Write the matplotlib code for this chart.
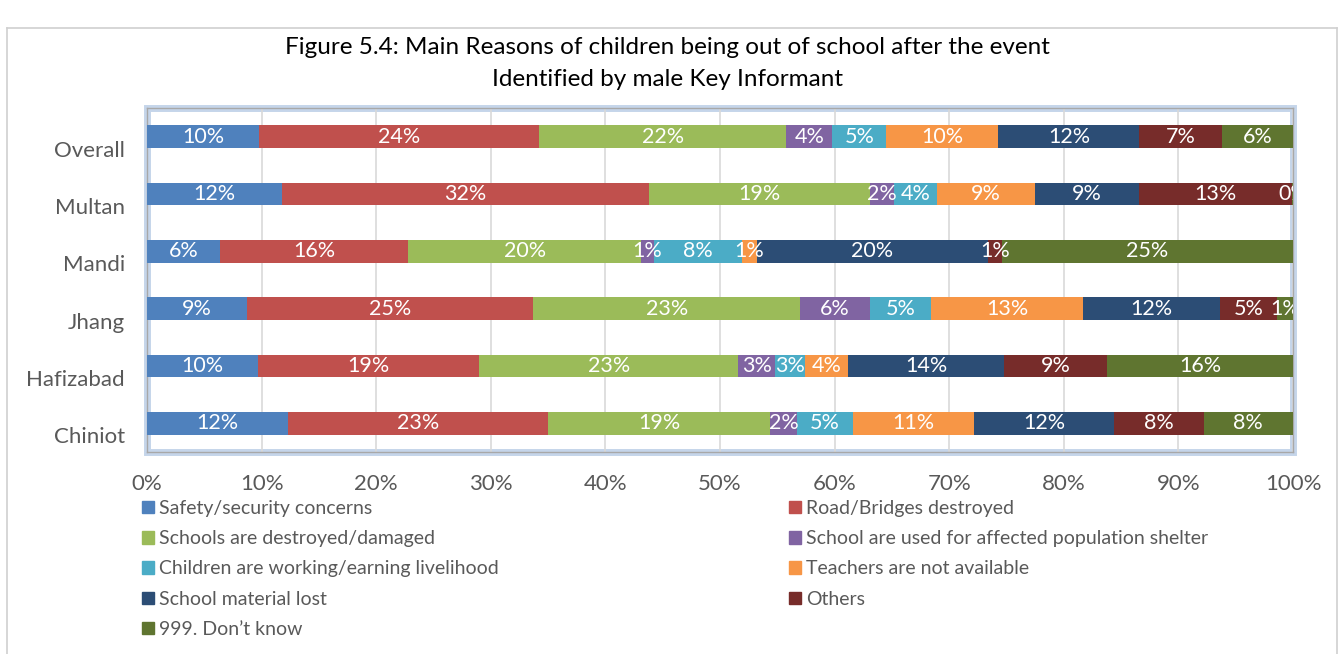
import matplotlib
matplotlib.use('Agg')
import matplotlib.pyplot as plt
import matplotlib.patches as mpatches
import matplotlib.lines as mlines
import matplotlib.ticker as mticker
import matplotlib.transforms as mtransforms
import numpy as np

# Data (percent of key informants)
districts = ["Overall", "Multan", "Mandi", "Jhang", "Hafizabad", "Chiniot"]
reasons = ["Safety/security concerns", "Road/Bridges destroyed", "Schools are destroyed/damaged",
           "School are used for affected population shelter", "Children are working/earning livelihood",
           "Teachers are not available", "School material lost", "Others", "999. Don\u2019t know"]
safety = [9.8, 11.8, 6.4, 8.7, 9.7, 12.3]
roads = [24.4, 32.0, 16.4, 25.0, 19.3, 22.7]
schools_damaged = [21.6, 19.3, 20.3, 23.3, 22.6, 19.4]
shelter = [4.0, 2.1, 1.1, 6.1, 3.2, 2.3]
working = [4.7, 3.7, 7.7, 5.3, 2.6, 4.9]
no_teachers = [9.8, 8.6, 1.3, 13.3, 3.8, 10.6]
material_lost = [12.3, 9.1, 20.2, 11.9, 13.6, 12.2]
others = [7.2, 13.3, 1.2, 5.0, 9.0, 7.8]
dont_know = [6.2, 0.2, 25.4, 1.4, 16.2, 7.8]

series = [safety, roads, schools_damaged, shelter, working, no_teachers, material_lost, others, dont_know]
colors = ["#4F81BD", "#C0504D", "#9BBB59", "#8064A2", "#4BACC6", "#F79646", "#2C4D75", "#772C2A", "#5F7530"]

font = "Lato"
grey = "#595959"

fig = plt.figure(figsize=(13.43, 6.54), dpi=100)
ax = fig.add_axes([147 / 1343, 1 - 452 / 654, 1146 / 1343, 344 / 654])

# Stacked bars, first district on top
y = np.arange(len(districts))
left = np.zeros(len(districts))
for vals, col in zip(series, colors):
    vals = np.array(vals) / 100.0
    ax.barh(y, vals, left=left, height=0.4, color=col, zorder=3)
    for yi, (l, v) in enumerate(zip(left, vals)):
        ax.text(l + v / 2, yi, "{:.0f}%".format(v * 100), ha="center", va="center",
                color="white", fontsize=15.5, family=font, zorder=4, clip_on=True)
    left += vals

ax.set_xlim(0, 1)
ax.set_ylim(len(districts) - 0.5, -0.5)
ax.set_yticks(y)
ax.set_yticklabels(districts)
ax.xaxis.set_major_locator(mticker.MultipleLocator(0.1))
ax.xaxis.set_major_formatter(mticker.PercentFormatter(1.0, decimals=0))
ax.grid(axis="x", color="#D9D9D9", linewidth=1.2, zorder=0)
ax.tick_params(axis="x", length=0, labelsize=16, labelcolor=grey, pad=16)
ax.tick_params(axis="y", length=0, labelsize=16, labelcolor=grey, pad=16)
for lab in ax.get_xticklabels() + ax.get_yticklabels():
    lab.set_family(font)
# category labels sit a little below the bar centres, as in the original
shift = mtransforms.ScaledTranslation(0, -12 / 100, fig.dpi_scale_trans)
for lab in ax.get_yticklabels():
    lab.set_transform(lab.get_transform() + shift)
for s in ax.spines.values():
    s.set_color("#A8A8A8")
    s.set_linewidth(1)

# Bluish glow around the plot area
ax.add_patch(mpatches.Rectangle((0, 0), 1, 1, transform=ax.transAxes, fill=False,
                                edgecolor="#C5D5EA", linewidth=5, clip_on=False, zorder=0))

# Title
fig.text(0.497, 1 - 47 / 654, "Figure 5.4: Main Reasons of children being out of school after the event",
         ha="center", va="center", fontsize=17.5, family=font, color="black")
fig.text(0.497, 1 - 79 / 654, "Identified by male Key Informant",
         ha="center", va="center", fontsize=17.5, family=font, color="black")

# Legend in two columns, filled row by row
handles = [mpatches.Patch(color=c, label=r) for c, r in zip(colors, reasons)]
leg_kw = dict(loc="upper left", frameon=False, handlelength=0.62, handleheight=0.62,
              handletextpad=0.25, labelspacing=0.68, borderaxespad=0, borderpad=0,
              prop={"family": font, "size": 14})
leg1 = fig.legend(handles=handles[0::2], bbox_to_anchor=(142 / 1343, 1 - 500 / 654), **leg_kw)
leg2 = fig.legend(handles=handles[1::2], bbox_to_anchor=(789 / 1343, 1 - 500 / 654), **leg_kw)
for leg in (leg1, leg2):
    for t in leg.get_texts():
        t.set_color(grey)

# Outer chart border
bc = "#D0D0D0"
fig.add_artist(mlines.Line2D([7 / 1343, 1337 / 1343], [1 - 28 / 654, 1 - 28 / 654], color=bc, lw=1.2))
fig.add_artist(mlines.Line2D([7 / 1343, 7 / 1343], [1 - 28 / 654, 0], color=bc, lw=1.2))
fig.add_artist(mlines.Line2D([1337 / 1343, 1337 / 1343], [1 - 28 / 654, 0], color=bc, lw=1.2))

fig.savefig("out.png", dpi=100)
